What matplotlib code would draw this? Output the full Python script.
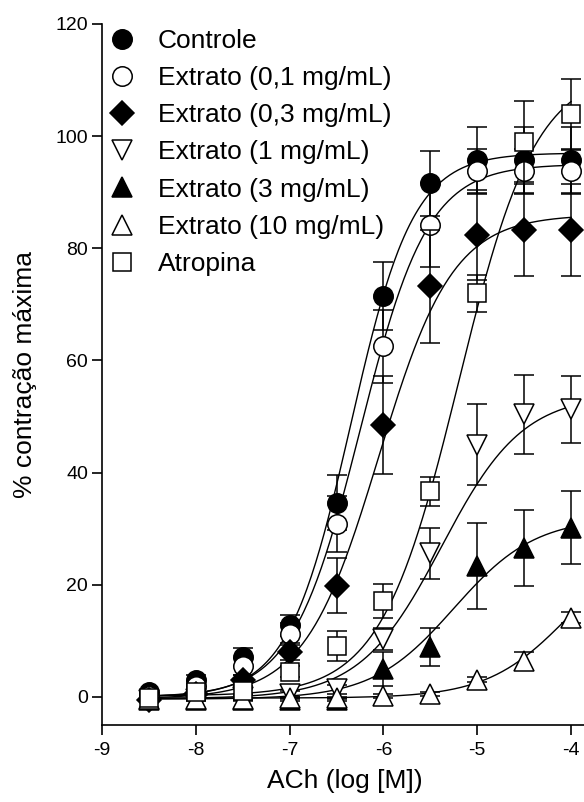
import numpy as np
import matplotlib
matplotlib.use('Agg')
import matplotlib.pyplot as plt
from matplotlib.lines import Line2D

plt.rcParams['font.family'] = ['Liberation Sans', 'DejaVu Sans']
plt.rcParams['axes.unicode_minus'] = False

# log [ACh] (M)
log_conc = [-8.5, -8.0, -7.5, -7.0, -6.5, -6.0, -5.5, -5.0, -4.5, -4.0]

labels = ['Controle', 'Extrato (0,1 mg/mL)', 'Extrato (0,3 mg/mL)',
          'Extrato (1 mg/mL)', 'Extrato (3 mg/mL)', 'Extrato (10 mg/mL)',
          'Atropina']

# % contração máxima (média) e EPM
controle = [0.8, 3.1, 7.2, 12.8, 34.6, 71.5, 91.6, 95.7, 95.7, 95.7]
controle_err = [0.4, 0.8, 1.6, 1.9, 4.9, 6.0, 5.8, 5.9, 5.9, 5.9]
ext01 = [0.2, 2.0, 5.5, 11.2, 30.8, 62.5, 84.2, 93.7, 93.7, 93.7]
ext01_err = [0.3, 0.8, 1.5, 2.0, 5.0, 6.5, 7.5, 4.0, 4.0, 4.0]
ext03 = [-0.5, 0.5, 3.0, 8.1, 19.8, 48.5, 73.2, 82.4, 83.2, 83.2]
ext03_err = [0.3, 0.5, 1.0, 1.5, 4.9, 8.8, 10.0, 8.0, 8.2, 8.2]
ext1 = [-0.5, -0.3, 0.0, 0.5, 1.4, 10.3, 25.6, 45.0, 50.4, 51.3]
ext1_err = [0.3, 0.3, 0.3, 0.5, 0.8, 2.0, 4.6, 7.2, 7.0, 6.0]
ext3 = [-0.5, -0.5, -0.5, -0.5, -0.5, 5.0, 8.9, 23.4, 26.6, 30.2]
ext3_err = [0.3, 0.3, 0.3, 0.3, 0.3, 3.0, 3.4, 7.7, 6.8, 6.5]
ext10 = [-0.3, -0.3, -0.3, -0.2, -0.2, 0.2, 0.5, 3.1, 6.4, 14.1]
ext10_err = [0.2, 0.2, 0.2, 0.2, 0.2, 0.3, 0.3, 0.5, 1.6, 1.0]
atropina = [-0.1, 0.8, 1.1, 4.5, 9.1, 17.1, 36.7, 72.0, 99.0, 103.9]
atropina_err = [0.5, 0.5, 0.5, 1.0, 2.6, 3.0, 2.6, 3.3, 7.2, 6.3]

# parâmetros da regressão sigmoidal (estimados da figura)
fit_bottom = [0.0, 0.0, -0.3, -0.3, -0.4, -0.2, 0.2]
fit_top = [97.0, 95.0, 86.0, 54.0, 32.0, 29.0, 112.0]
fit_logec50 = [-6.35, -6.25, -6.05, -5.38, -5.25, -4.02, -5.2]
fit_hill = [1.3, 1.2, 1.1, 1.0, 1.0, 1.0, 1.05]

means = [controle, ext01, ext03, ext1, ext3, ext10, atropina]
errs = [controle_err, ext01_err, ext03_err, ext1_err, ext3_err, ext10_err, atropina_err]
markers = ['o', 'o', 'D', 'v', '^', '^', 's']
faces = ['black', 'white', 'black', 'white', 'black', 'white', 'white']
msizes = [14, 14, 12, 14, 14, 14, 13]

fig = plt.figure(figsize=(5.84, 8.02), dpi=100)
ax = fig.add_axes([102 / 584, 77 / 802, 516 / 584, 701 / 802])

xfit = np.linspace(-8.55, -4.0, 300)
for i in range(len(means)):
    yfit = fit_bottom[i] + (fit_top[i] - fit_bottom[i]) / (1 + 10 ** ((fit_logec50[i] - xfit) * fit_hill[i]))
    ax.plot(xfit, yfit, color='black', lw=1.0, zorder=2)

for i in range(len(means)):
    ax.errorbar(log_conc, means[i], yerr=errs[i], fmt=markers[i], ms=msizes[i],
                mfc=faces[i], mec='black', mew=1.1, ecolor='black', elinewidth=1.1,
                capsize=7, capthick=1.1, zorder=3 + i)

ax.set_xlim(-9, -3.5)
ax.set_ylim(-5, 120)
ax.set_xticks([-9, -8, -7, -6, -5, -4])
ax.set_yticks([0, 20, 40, 60, 80, 100, 120])
ax.spines['top'].set_visible(False)
ax.spines['right'].set_visible(False)
for s in ['left', 'bottom']:
    ax.spines[s].set_linewidth(1.2)
ax.tick_params(direction='out', length=7, width=1.2, labelsize=14)
ax.tick_params(axis='x', pad=5)
ax.tick_params(axis='y', pad=3)

ax.set_xlabel('ACh (log [M])', fontsize=19)
ax.xaxis.label.set_va('baseline')
ax.xaxis.set_label_coords(0.471, -0.09)
ax.set_ylabel('% contração máxima', fontsize=19)
ax.yaxis.label.set_va('baseline')
ax.yaxis.set_label_coords(-0.135, 0.5)

handles = [Line2D([], [], ls='none', marker=markers[i], ms=msizes[i], mfc=faces[i],
                  mec='black', mew=1.1) for i in range(len(labels))]
ax.legend(handles, labels, loc='upper left', bbox_to_anchor=(0.013, 0.993),
          frameon=False, fontsize=19, handlelength=1.0, handletextpad=0.86,
          labelspacing=0.5, borderpad=0, borderaxespad=0)

fig.savefig('out.png', dpi=100)
